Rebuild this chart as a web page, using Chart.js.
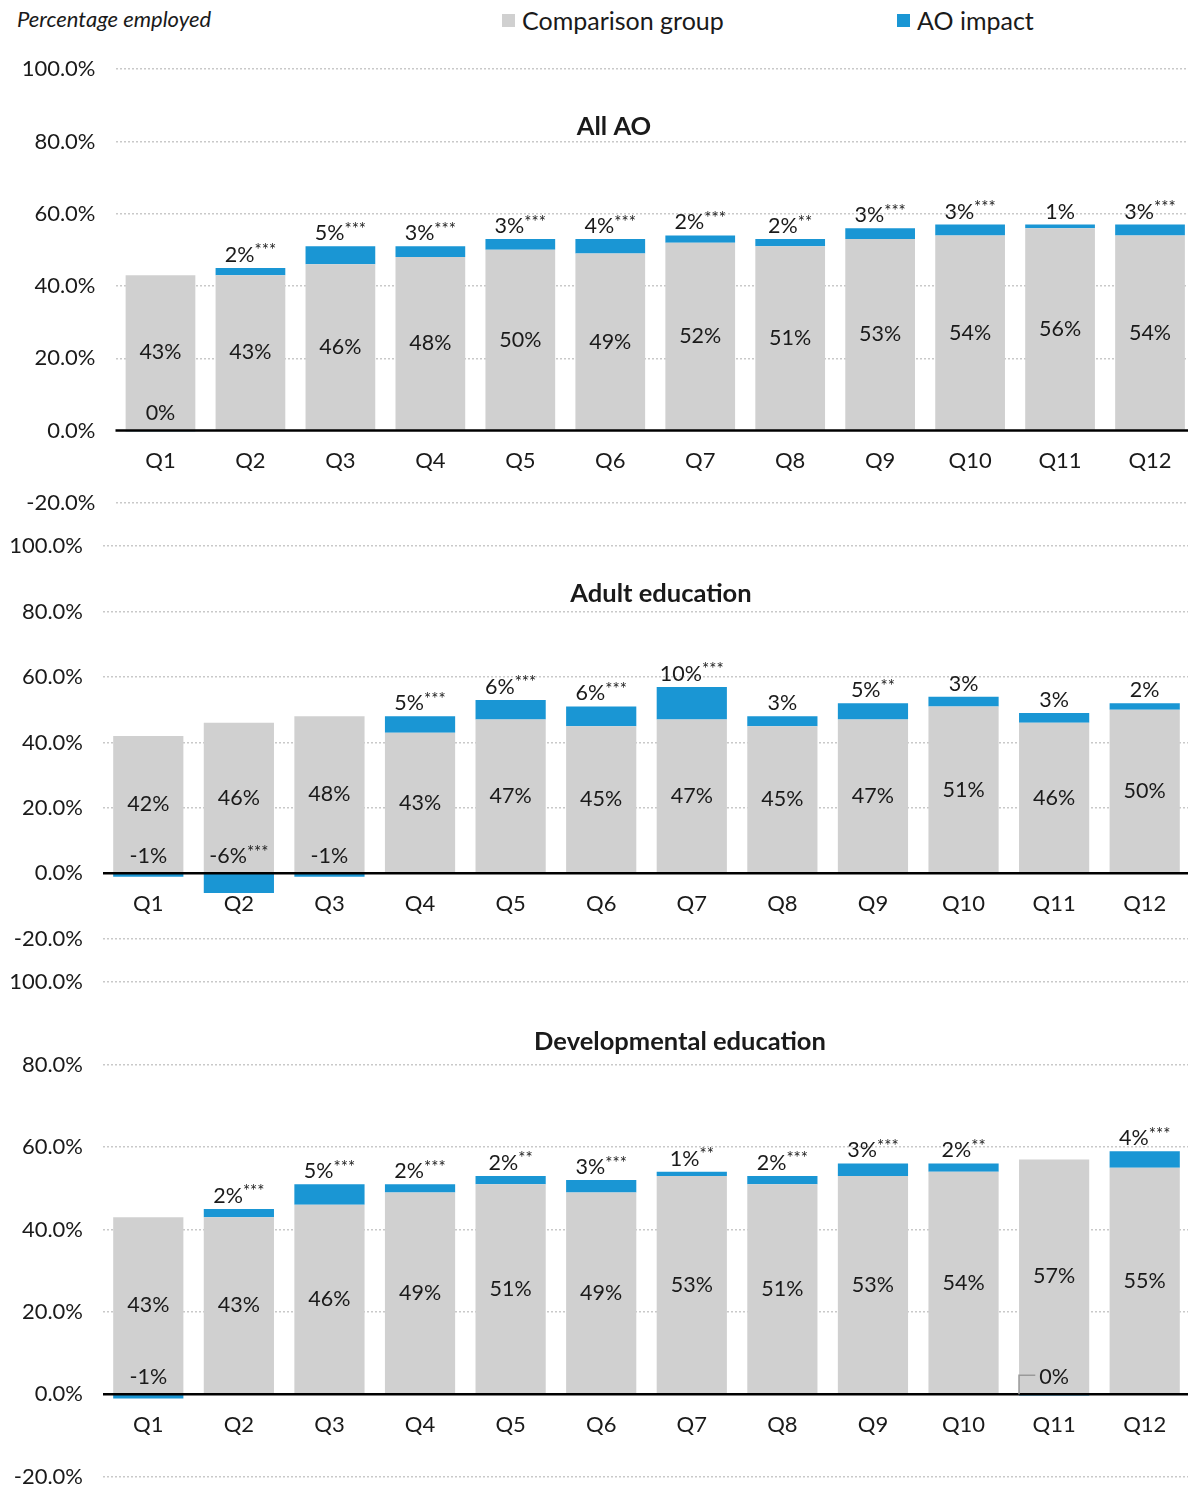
<!DOCTYPE html>
<html>
<head>
<meta charset="utf-8">
<script src="https://cdn.jsdelivr.net/npm/chart.js@4.4.1/dist/chart.umd.min.js"></script>
<style>
html, body { margin: 0; padding: 0; width: 1188px; height: 1488px; overflow: hidden; background: #fff; font-family: Lato, sans-serif; color: #1a1a1a; }
canvas { position: absolute; left: 0; }
#ylab { position: absolute; left: 17px; top: 5px; font-style: italic; font-size: 22px; }
.leg { position: absolute; top: 5px; font-size: 25px; display: flex; align-items: center; }
.leg span { display: inline-block; width: 13px; height: 13px; margin-right: 7px; }
</style>
</head>
<body>
<div id="ylab">Percentage employed</div>
<div class="leg" style="left:502px"><span style="background:#d0d0d0"></span>Comparison group</div>
<div class="leg" style="left:897px"><span style="background:#1a96d4"></span>AO impact</div>
<canvas id="c1" width="1200" height="500" style="top:36px"></canvas>
<canvas id="c2" width="1200" height="459" style="top:513px"></canvas>
<canvas id="c3" width="1200" height="561" style="top:949px"></canvas>
<script>
const quarters = ['Q1', 'Q2', 'Q3', 'Q4', 'Q5', 'Q6', 'Q7', 'Q8', 'Q9', 'Q10', 'Q11', 'Q12'];
const yTicks = [-20, 0, 20, 40, 60, 80, 100];

// All AO
const allComparison = [43, 43, 46, 48, 50, 49, 52, 51, 53, 54, 56, 54];
const allImpact = [-0.3, 2, 5, 3, 3, 4, 2, 2, 3, 3, 1, 3];
const allStars = ['', '***', '***', '***', '***', '***', '***', '**', '***', '***', '', '***'];

// Adult education
const adultComparison = [42, 46, 48, 43, 47, 45, 47, 45, 47, 51, 46, 50];
const adultImpact = [-1, -6, -1, 5, 6, 6, 10, 3, 5, 3, 3, 2];
const adultStars = ['', '***', '', '***', '***', '***', '***', '', '**', '', '', ''];

// Developmental education
const devComparison = [43, 43, 46, 49, 51, 49, 53, 51, 53, 54, 57, 55];
const devImpact = [-1, 2, 5, 2, 2, 3, 1, 2, 3, 2, -0.3, 4];
const devStars = ['', '***', '***', '***', '**', '***', '**', '***', '***', '**', '', '***'];

const GREY = '#d0d0d0';
const BLUE = '#1a96d4';
const FONT = 'Lato';

// zero line, titles and the value labels
const panelDecor = {
  id: 'panelDecor',
  afterDatasetsDraw(chart, args, opts) {
    const { ctx, chartArea } = chart;
    const y = chart.scales.y;
    const y0 = y.getPixelForValue(0);
    ctx.save();
    ctx.strokeStyle = '#000';
    ctx.lineWidth = 2.5;
    ctx.beginPath();
    ctx.moveTo(chartArea.left, y0);
    ctx.lineTo(chartArea.right, y0);
    ctx.stroke();

    ctx.fillStyle = '#1a1a1a';
    ctx.textBaseline = 'middle';
    ctx.textAlign = 'center';
    ctx.font = 'bold 25.5px ' + FONT;
    ctx.fillText(opts.title, opts.titleX, y.getPixelForValue(opts.titleAt));

    const comp = chart.data.datasets[0].data;
    const imp = chart.data.datasets[1].data;
    const compBars = chart.getDatasetMeta(0).data;
    const impBars = chart.getDatasetMeta(1).data;

    ctx.font = '21.5px ' + FONT;
    compBars.forEach((bar, i) => {
      ctx.fillText(`${comp[i]}%`, bar.x, (bar.y + bar.base) / 2);
    });

    impBars.forEach((bar, i) => {
      const num = `${Math.round(imp[i])}%`;
      const stars = opts.stars[i];
      const cy = imp[i] > 0 ? bar.y - 13 : y0 - 17;
      ctx.font = '21.5px ' + FONT;
      const w1 = ctx.measureText(num).width;
      ctx.font = '17px ' + FONT;
      const w2 = stars ? ctx.measureText(stars).width : 0;
      const left = bar.x - (w1 + w2) / 2;
      ctx.textAlign = 'left';
      ctx.font = '21.5px ' + FONT;
      ctx.fillText(num, left, cy);
      if (stars) {
        ctx.font = '17px ' + FONT;
        ctx.fillText(stars, left + w1, cy - 4);
      }
      if (opts.leader && opts.leader.includes(i)) {
        const bx = bar.x - bar.width / 2;
        ctx.strokeStyle = '#999';
        ctx.lineWidth = 1.5;
        ctx.beginPath();
        ctx.moveTo(left - 4, cy - 2);
        ctx.lineTo(bx, cy - 2);
        ctx.lineTo(bx, y0);
        ctx.stroke();
      }
      ctx.textAlign = 'center';
    });
    ctx.restore();
  }
};

function makePanel(id, comparison, impact, stars, o) {
  new Chart(document.getElementById(id), {
    type: 'bar',
    data: {
      labels: quarters,
      datasets: [
        { label: 'Comparison group', data: comparison, backgroundColor: GREY },
        { label: 'AO impact', data: impact, backgroundColor: BLUE }
      ]
    },
    options: {
      responsive: false,
      animation: false,
      layout: { padding: { top: 0, bottom: 0, right: o.padRight, left: 0 } },
      categoryPercentage: 1,
      barPercentage: 0.775,
      plugins: {
        legend: { display: false },
        tooltip: { enabled: false },
        panelDecor: { title: o.title, titleX: o.titleX, titleAt: o.titleAt, stars: stars, leader: o.leader }
      },
      scales: {
        x: {
          stacked: true,
          position: { y: 0 },
          grid: { display: false, drawTicks: false },
          border: { display: false },
          ticks: { padding: 17, color: '#1a1a1a', font: { family: FONT, size: 22 } }
        },
        y: {
          stacked: true,
          min: -20,
          max: 100,
          afterFit(scale) { scale.width = o.axisWidth; },
          afterBuildTicks(scale) { scale.ticks = yTicks.map(v => ({ value: v })); },
          grid: {
            drawTicks: false,
            color: ctx => ctx.tick && ctx.tick.value === 0 ? 'rgba(0,0,0,0)' : '#c9c9c9',
            lineWidth: 1.5
          },
          border: { display: false, dash: [2, 2] },
          ticks: {
            padding: 20,
            color: '#1a1a1a',
            font: { family: FONT, size: 22 },
            callback: v => v.toFixed(1) + '%'
          }
        }
      }
    },
    plugins: [panelDecor]
  });
}

makePanel('c1', allComparison, allImpact, allStars,
  { title: 'All AO', titleX: 614, titleAt: 84, padRight: 5, axisWidth: 115.5 });
makePanel('c2', adultComparison, adultImpact, adultStars,
  { title: 'Adult education', titleX: 661, titleAt: 85.5, padRight: 10, axisWidth: 103 });
makePanel('c3', devComparison, devImpact, devStars,
  { title: 'Developmental education', titleX: 680, titleAt: 85.5, padRight: 10, axisWidth: 103, leader: [10] });
</script>
</body>
</html>
